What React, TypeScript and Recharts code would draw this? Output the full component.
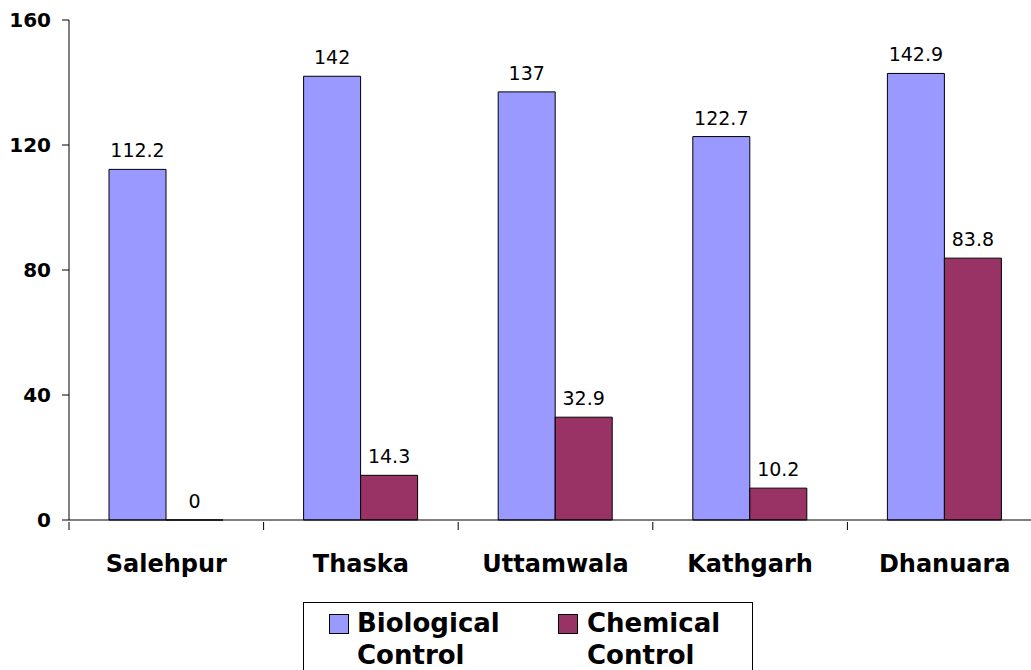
import React from "react";
import { BarChart, Bar, XAxis, YAxis, LabelList } from "recharts";

const categories = ["Salehpur", "Thaska", "Uttamwala", "Kathgarh", "Dhanuara"];
const biological = [112.2, 142, 137, 122.7, 142.9];
const chemical = [0, 14.3, 32.9, 10.2, 83.8];
const yTicks = [0, 40, 80, 120, 160];
const seriesNames = ["Biological Control", "Chemical Control"];
const seriesColors = ["#9999FF", "#993366"];

const FONT = "DejaVu Sans, Verdana, sans-serif";
const CHART_W = 1042;
const CHART_H = 670;
const Y_AXIS_W = 69;
const BAND = (CHART_W - Y_AXIS_W) / categories.length;

const data = categories.map((name, i) => ({
  name,
  bio: biological[i],
  chem: chemical[i],
}));

// category label + Excel-style tick mark between categories
// eslint-disable-next-line @typescript-eslint/no-explicit-any
const CategoryTick = ({ x, y, payload }: any) => {
  const left = x - BAND / 2;
  return (
    <g>
      <line x1={left} y1={y} x2={left} y2={y + 8} stroke="#000" strokeWidth={1} />
      <text x={x} y={y + 50} textAnchor="middle" fontFamily={FONT} fontWeight="bold" fontSize={24} fill="#000">
        {payload.value}
      </text>
    </g>
  );
};

// eslint-disable-next-line @typescript-eslint/no-explicit-any
const renderValueTick = ({ x, y, payload }: any) => (
  <text
    x={x}
    y={y}
    dy={7}
    textAnchor="end"
    fill="#000"
    style={{ fontFamily: FONT, fontWeight: "bold", fontSize: 20 }}
  >
    {payload.value}
  </text>
);

// value label above each bar
// eslint-disable-next-line @typescript-eslint/no-explicit-any
const ValueLabel = (props: any) => {
  const { x, y, width, value } = props;
  return (
    <text x={Number(x) + Number(width) / 2} y={Number(y) - 12} textAnchor="middle" fontFamily={FONT} fontSize={19} fill="#000">
      {String(value)}
    </text>
  );
};

export default function App() {
  return (
    <div style={{ position: "fixed", left: 0, top: 0, width: 1031, height: 670, overflow: "hidden", background: "#fff" }}>
      <BarChart
        width={CHART_W}
        height={CHART_H}
        data={data}
        margin={{ top: 20, right: 0, bottom: 0, left: 0 }}
        barCategoryGap={40}
        barGap={0}
      >
        <XAxis
          dataKey="name"
          height={150}
          axisLine={{ stroke: "#000" }}
          tickLine={false}
          tickSize={0}
          tick={<CategoryTick />}
          interval={0}
        />
        <YAxis
          width={Y_AXIS_W}
          domain={[0, 160]}
          ticks={yTicks}
          axisLine={{ stroke: "#000" }}
          tickLine={{ stroke: "#000" }}
          tickSize={7}
          tickMargin={11}
          tick={renderValueTick}
        />
        <Bar dataKey="bio" name={seriesNames[0]} fill={seriesColors[0]} stroke="#000" strokeWidth={1} isAnimationActive={false}>
          <LabelList dataKey="bio" content={<ValueLabel />} />
        </Bar>
        <Bar
          dataKey="chem"
          name={seriesNames[1]}
          fill={seriesColors[1]}
          stroke="#000"
          strokeWidth={1}
          minPointSize={0.01}
          isAnimationActive={false}
        >
          <LabelList dataKey="chem" content={<ValueLabel />} />
        </Bar>
      </BarChart>

      {/* legend box, cut off at the bottom like the original */}
      <div
        style={{
          position: "absolute",
          left: 303,
          top: 602,
          width: 450,
          height: 90,
          border: "1px solid #000",
          boxSizing: "border-box",
          fontFamily: FONT,
          fontWeight: "bold",
          fontSize: 26,
          lineHeight: "32px",
          color: "#000",
        }}
      >
        {seriesNames.map((name, i) => (
          <div key={name} style={{ position: "absolute", left: i === 0 ? 25 : 254, top: 4, display: "flex" }}>
            <div
              style={{
                width: 20,
                height: 20,
                background: seriesColors[i],
                border: "1px solid #000",
                boxSizing: "border-box",
                marginTop: 7,
                marginRight: i === 0 ? 8 : 9,
              }}
            />
            <div>
              {name.split(" ").map((w) => (
                <div key={w}>{w}</div>
              ))}
            </div>
          </div>
        ))}
      </div>
    </div>
  );
}
